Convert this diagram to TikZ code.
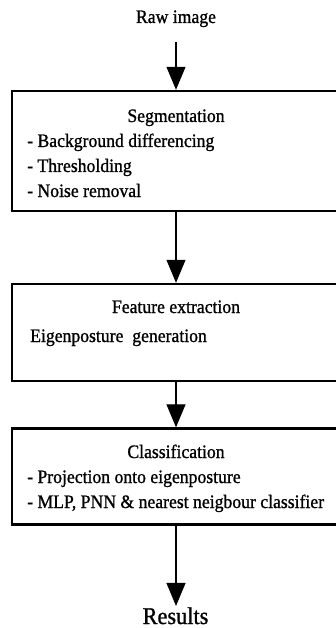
\documentclass[tikz,border=0pt]{standalone}
\usepackage{fontspec}
\setmainfont{Liberation Serif}[FakeStretch=0.93,FakeBold=1]
\usetikzlibrary{arrows.meta}
\begin{document}
\begin{tikzpicture}[x=1pt,y=-1pt,
  stage/.style={draw, line width=2.4pt, minimum width=340pt, inner sep=0pt, outer sep=0pt},
  txt/.style={inner sep=0pt, font=\fontsize{19}{22}\selectfont},
  arr/.style={line width=1.1pt, -{Triangle[width=19pt,length=23pt]}, shorten >=1.2pt}
]
\useasboundingbox (0,0) rectangle (336,628);
\clip (0,0) rectangle (336,628);
\fill[white] (0,0) rectangle (336,628);

% boxes
\node[stage, minimum height=120pt] (b1) at (182,151) {};
\node[stage, minimum height=97pt] (b2) at (182,332.5) {};
\node[stage, minimum height=96pt] (b3) at (182,476.5) {};

% texts
\node[txt, anchor=base] (raw) at (176,23) {Raw image};
\node[txt, anchor=base] (t1) at (176,122) {Segmentation};
\node[txt, anchor=base west] (t1a) at (27,147) {- Background differencing};
\node[txt, anchor=base west] (t1b) at (27,172) {- Thresholding};
\node[txt, anchor=base west] (t1c) at (27,197) {- Noise removal};

\node[txt, anchor=base] (t2) at (176,313) {Feature extraction};
\node[txt, anchor=base west] (t2a) at (30,342) {Eigenposture\ \ generation};

\node[txt, anchor=base] (t3) at (176,458) {Classification};
\node[txt, anchor=base west] (t3a) at (27,483) {- Projection onto eigenposture};
\node[txt, anchor=base west] (t3b) at (27,508) {- MLP, PNN \& nearest neigbour classifier};

\node[inner sep=0pt, anchor=base, font=\fontsize{24}{28}\selectfont] (res) at (175.5,624) {Results};

% connectors
\coordinate (c0) at (176,42);
\draw[arr] (c0) -- (c0 |- b1.north);
\draw[arr] (c0 |- b1.south) -- (c0 |- b2.north);
\draw[arr] (c0 |- b2.south) -- (c0 |- b3.north);
\draw[arr] (c0 |- b3.south) -- (c0 |- res.north);
\end{tikzpicture}
\end{document}
